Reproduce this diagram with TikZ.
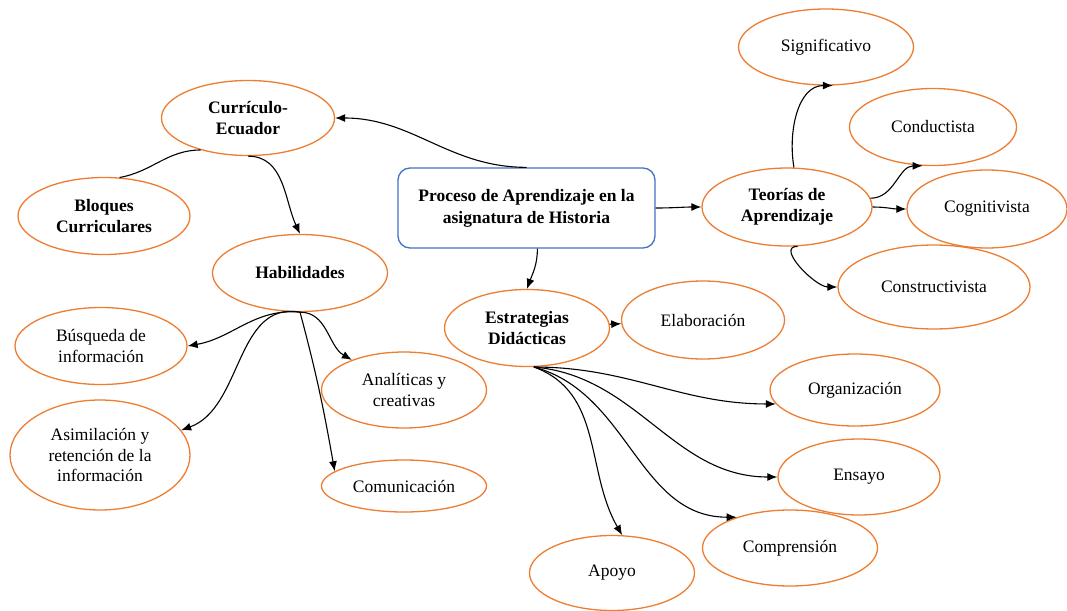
\documentclass[tikz,border=0pt]{standalone}
\usepackage{fontspec}
\setmainfont{Liberation Serif}
\usetikzlibrary{shapes.geometric,arrows.meta}
\definecolor{naranja}{HTML}{ED7D31}
\definecolor{azul}{HTML}{4472C4}
\tikzset{
    concepto/.style={ellipse, draw=naranja, line width=1.3pt, inner sep=0pt, align=center,
        font=\fontsize{17.5}{20.5}\selectfont},
    central/.style={rectangle, rounded corners=12pt, draw=azul, line width=1.3pt, align=center,
        font=\fontsize{17.5}{22}\selectfont\bfseries},
    flecha/.style={-{Latex[length=10pt,width=8pt]}, line width=1.1pt},
    linea/.style={line width=1.1pt}
}

\begin{document}
\begin{tikzpicture}[x=1pt,y=1pt]
    \useasboundingbox (0,0) rectangle (1067,-610);

    \node at (526.5,-208) [central, minimum width=257pt, minimum height=80pt] (Proceso) {Proceso de Aprendizaje en la\\asignatura de Historia};

    \node at (248,-118) [concepto, minimum width=173pt, minimum height=75pt, font=\fontsize{17.5}{20.5}\selectfont\bfseries] (Curriculo) {Currículo-\\Ecuador};
    \node at (104,-216) [concepto, minimum width=172pt, minimum height=77pt, font=\fontsize{17.5}{20.5}\selectfont\bfseries] (Bloques) {Bloques\\Curriculares};
    \node at (300,-273) [concepto, minimum width=175pt, minimum height=77pt, font=\fontsize{17.5}{20.5}\selectfont\bfseries] (Habilidades) {Habilidades};
    \node at (101,-346) [concepto, minimum width=172pt, minimum height=77pt] (Busqueda) {Búsqueda de\\información};
    \node at (100,-455) [concepto, minimum width=180pt, minimum height=110pt] (Asimilacion) {Asimilación y\\retención de la\\información};
    \node at (404,-390) [concepto, minimum width=165pt, minimum height=76pt] (Analiticas) {Analíticas y\\creativas};
    \node at (404,-486) [concepto, minimum width=165pt, minimum height=52pt] (Comunicacion) {Comunicación};

    \node at (527,-328) [concepto, minimum width=165pt, minimum height=77pt, font=\fontsize{17.5}{20.5}\selectfont\bfseries] (Estrategias) {Estrategias\\Didácticas};
    \node at (703,-320) [concepto, minimum width=163pt, minimum height=78pt] (Elaboracion) {Elaboración};
    \node at (855,-390) [concepto, minimum width=170pt, minimum height=72pt] (Organizacion) {Organización};
    \node at (859,-477) [concepto, minimum width=162pt, minimum height=76pt] (Ensayo) {Ensayo};
    \node at (790,-548) [concepto, minimum width=175pt, minimum height=76pt] (Comprension) {Comprensión};
    \node at (612,-573) [concepto, minimum width=165pt, minimum height=75pt] (Apoyo) {Apoyo};

    \node at (787,-207) [concepto, minimum width=170pt, minimum height=78pt, font=\fontsize{17.5}{20.5}\selectfont\bfseries] (Teorias) {Teorías de\\Aprendizaje};
    \node at (826,-47) [concepto, minimum width=175pt, minimum height=76pt] (Significativo) {Significativo};
    \node at (933,-127) [concepto, minimum width=167pt, minimum height=77pt] (Conductista) {Conductista};
    \node at (987,-209) [concepto, minimum width=160pt, minimum height=78pt] (Cognitivista) {Cognitivista};
    \node at (934,-287) [concepto, minimum width=192pt, minimum height=84pt] (Constructivista) {Constructivista};

    % curriculo y habilidades
    \draw[flecha] (Proceso.north) to[out=180, in=0] (Curriculo.east);
    \draw[linea] (Curriculo.214) to[out=180, in=10] (Bloques.68);
    \draw[flecha] (Curriculo.south) to[out=0, in=115] (Habilidades.north);
    \draw[flecha] (Habilidades.south) to[out=175, in=10] (Busqueda.east);
    \draw[flecha] (Habilidades.south) to[out=170, in=20] (Asimilacion.17);
    \draw[flecha] (Habilidades.south) to[out=0, in=150] (Analiticas.150);
    \draw[flecha] (Habilidades.south) to[out=-75, in=100] (Comunicacion.168);

    % estrategias
    \draw[flecha] (Proceso.-75) to[out=-90, in=70] (Estrategias.north);
    \draw[flecha] (Estrategias) -- (Elaboracion);
    \draw[flecha] (Estrategias.-80) to[out=0, in=180] (Organizacion.190);
    \draw[flecha] (Estrategias.-80) to[out=-5, in=180] (Ensayo.west);
    \draw[flecha] (Estrategias.-80) to[out=-15, in=180] (Comprension.150);
    \draw[flecha] (Estrategias.-80) to[out=-20, in=120] (Apoyo.75);

    % teorias
    \draw[flecha] (Proceso.east) to[out=0, in=180] (Teorias.west);
    \draw[flecha] (Teorias.80) to[out=100, in=180] (Significativo.-80);
    \draw[flecha] (Teorias.6) to[out=0, in=180] (Conductista.255);
    \draw[flecha] (Teorias.0) to[out=0, in=180] (Cognitivista.west);
    \draw[flecha] (Teorias.-75) to[out=180, in=180] (Constructivista.west);
\end{tikzpicture}
\end{document}
